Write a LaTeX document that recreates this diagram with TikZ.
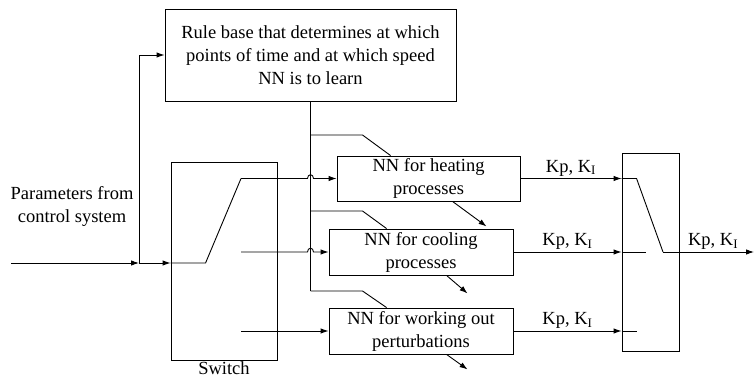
\documentclass[tikz,border=0pt]{standalone}
\usepackage{fontspec}
\setmainfont{Liberation Serif}
\newfontfamily\timesfont{Liberation Serif}
\usetikzlibrary{arrows.meta}

\begin{document}
\begin{tikzpicture}[x=1pt,y=-1pt,line width=0.9pt,>={Latex[length=8pt,width=5.5pt]},
    blk/.style={draw,inner sep=0pt,align=center,font=\timesfont\fontsize{18.5}{23}\selectfont},
    lbl/.style={font=\timesfont\fontsize{18.5}{23}\selectfont,inner sep=2pt}]
    \useasboundingbox (0,0) rectangle (754,379);

    % blocks
    \node[blk,minimum width=291pt,minimum height=92pt](rule) at (310.5,55)
        {Rule base that determines at which\\points of time and at which speed\\NN is to learn};
    \node[blk,minimum width=106pt,minimum height=198pt](switch) at (224,261){};
    \node[blk,minimum width=183pt,minimum height=45pt](heat) at (428.5,178.5){NN for heating\\processes};
    \node[blk,minimum width=184pt,minimum height=46pt](cool) at (421,252){NN for cooling\\processes};
    \node[blk,minimum width=184pt,minimum height=46pt](pert) at (421,331){NN for working out\\perturbations};
    \node[blk,minimum width=57pt,minimum height=198pt](sel) at (650.5,252){};

    \node[lbl,align=center](params) at (72,206){Parameters from\\control system};
    \node[lbl,inner sep=0pt,anchor=base](swlbl) at (224,374){Switch};

    % input
    \coordinate(in) at (11,263);
    \coordinate(tap) at (139,263);
    \draw[->](in)--(tap);
    \draw[->](tap)--(switch.west |- tap);
    \draw[->](tap)|-(rule.west);

    % rule base bus to the nets
    \coordinate(b1) at (rule.south |- 0,135);
    \coordinate(b2) at (rule.south |- 0,211);
    \coordinate(b3) at (rule.south |- 0,291);
    \draw(rule.south)--(b3);
    \draw(b1)--++(52,0)--([xshift=54pt]heat.north west);
    \draw(b2)--++(52,0)--([xshift=58pt]cool.north west);
    \draw(b3)--++(52,0)--([xshift=58pt]pert.north west);

    % switch contacts
    \coordinate(k1) at (241,178.5);
    \coordinate(k2) at (241,252);
    \coordinate(k3) at (241,331);
    \draw(switch.west |- tap)--++(35,0)--(k1);
    \draw[->](k1)--(307.5,178.5) .. controls +(0,-5) and +(0,-5) .. (313.5,178.5)--(heat.west);
    \draw[->](k2)--(307.5,252) .. controls +(0,-5) and +(0,-5) .. (313.5,252)--(cool.west);
    \draw[->](k3)--(pert.west);

    % learning outputs
    \draw[->]([xshift=116pt]heat.south west)--++(34,25);
    \draw[->]([xshift=118pt]cool.south west)--++(21,18);
    \draw[->]([xshift=118pt]pert.south west)--++(21,15);

    % gains into selector
    \coordinate(g1) at (heat.east -| sel.west);
    \coordinate(g2) at (cool.east -| sel.west);
    \coordinate(g3) at (pert.east -| sel.west);
    \coordinate(out) at (754,252);
    \draw[->](heat.east)--(g1)node[lbl,midway,above]{Kp, K\textsubscript{I}};
    \draw[->](cool.east)--(g2)node[lbl,midway,above]{Kp, K\textsubscript{I}};
    \draw[->](pert.east)--(g3)node[lbl,midway,above]{Kp, K\textsubscript{I}};
    \draw(g1)--++(15,0)--(663,252);
    \draw(g2)--++(24,0);
    \draw(g3)--++(15,0);
    \draw[->](663,252)--(out)node[lbl,pos=0.55,above]{Kp, K\textsubscript{I}};
\end{tikzpicture}
\end{document}
